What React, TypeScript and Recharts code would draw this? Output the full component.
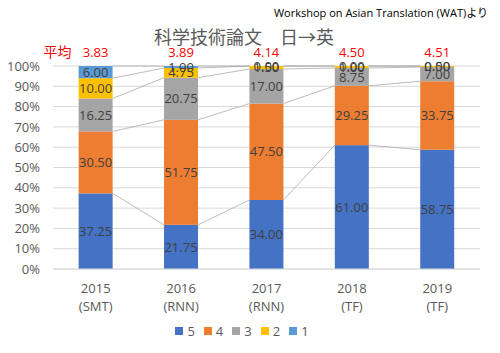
import { Bar, BarChart, CartesianGrid, LabelList, Legend, XAxis, YAxis } from "recharts";

const years = ["2015", "2016", "2017", "2018", "2019"];
const systems = ["(SMT)", "(RNN)", "(RNN)", "(TF)", "(TF)"];
const score5 = [37.25, 21.75, 34.0, 61.0, 58.75];
const score4 = [30.5, 51.75, 47.5, 29.25, 33.75];
const score3 = [16.25, 20.75, 17.0, 8.75, 7.0];
const score2 = [10.0, 4.75, 1.5, 1.0, 0.5];
const score1 = [6.0, 1.0, 0.0, 0.0, 0.0];
const averages = [3.83, 3.89, 4.14, 4.5, 4.51];
const yTicks = [0, 10, 20, 30, 40, 50, 60, 70, 80, 90, 100];

const FONT = "'Open Sans', 'Noto Sans CJK JP', sans-serif";

const series = [
  { key: "s5", name: "5", color: "#4472C4" },
  { key: "s4", name: "4", color: "#ED7D31" },
  { key: "s3", name: "3", color: "#A5A5A5" },
  { key: "s2", name: "2", color: "#FFC000" },
  { key: "s1", name: "1", color: "#5B9BD5" },
];

const data = years.map((year, i) => ({
  year,
  system: systems[i],
  s5: score5[i],
  s4: score4[i],
  s3: score3[i],
  s2: score2[i],
  s1: score1[i],
  avg: averages[i],
}));

// segment tops of the previous bar, per series, for the connector ("series") lines
const tops: Record<string, { x: number; y: number }[]> = {};

function segmentShape(key: string, color: string) {
  return (props: any) => {
    const { x, y, width, height, payload } = props;
    let i = years.indexOf(payload?.year);
    if (i < 0) i = props.index ?? 0;
    const list = tops[key] || (tops[key] = []);
    const prev = i > 0 ? list[i - 1] : undefined;
    list[i] = { x: x + width, y };
    return (
      <g>
        <rect x={x} y={y} width={width} height={Math.max(height || 0, 0)} fill={color} />
        {prev && (
          <line x1={prev.x} y1={prev.y} x2={x} y2={y} stroke="#A6A6A6" strokeWidth={0.75} />
        )}
      </g>
    );
  };
}

function XTick(props: any) {
  const { x, y, payload } = props;
  const i = years.indexOf(payload.value);
  return (
    <g transform={`translate(${x},${y})`}>
      <text textAnchor="middle" fill="#595959" fontSize={13} fontFamily={FONT}>
        <tspan x={0} dy="0.71em">{payload.value}</tspan>
        <tspan x={0} dy={18}>{systems[i]}</tspan>
      </text>
    </g>
  );
}

function AvgLabel(props: any) {
  const vb = props.viewBox || props;
  const cx = vb.x + vb.width / 2;
  const top = vb.y;
  return (
    <g>
      {props.index === 0 && (
        <text x={cx - 38} y={top - 9} textAnchor="middle" fill="#FF0000" fontSize={14} fontFamily={FONT}>
          平均
        </text>
      )}
      <text x={cx} y={top - 9} textAnchor="middle" fill="#FF0000" fontSize={13} fontFamily={FONT}>
        {Number(props.value).toFixed(2)}
      </text>
    </g>
  );
}

function LegendContent() {
  return (
    <div style={{ display: "flex", justifyContent: "center", gap: 9, fontFamily: FONT, fontSize: 13, color: "#595959", lineHeight: "20px", paddingLeft: 4 }}>
      {series.map((s) => (
        <div key={s.key} style={{ display: "flex", alignItems: "center" }}>
          <span style={{ width: 8, height: 8, background: s.color, display: "inline-block", marginRight: 4 }} />
          <span>{s.name}</span>
        </div>
      ))}
    </div>
  );
}

export default function App() {
  return (
    <div style={{ position: "absolute", left: 0, top: 0, width: 500, height: 353, background: "#fff", fontFamily: FONT }}>
      <div style={{ position: "absolute", right: 12, top: 5, fontSize: 11, color: "#000", lineHeight: "16px", whiteSpace: "nowrap" }}>
        Workshop on Asian Translation (WAT)より
      </div>
      <div style={{ position: "absolute", left: 0, width: 488, top: 27, textAlign: "center", fontSize: 18, lineHeight: "18px", color: "#595959", fontFamily: "'Noto Sans CJK JP', sans-serif" }}>
        科学技術論文　日→英
      </div>
      <BarChart
        width={500}
        height={353}
        data={data}
        margin={{ top: 66, right: 20, left: 0, bottom: 12 }}
        barCategoryGap="30%"
      >
        <CartesianGrid vertical={false} stroke="#D9D9D9" />
        <XAxis
          dataKey="year"
          tick={<XTick />}
          tickLine={false}
          tickSize={0}
          tickMargin={15}
          height={52}
          axisLine={{ stroke: "#D9D9D9" }}
          interval={0}
        />
        <YAxis
          domain={[0, 100]}
          ticks={yTicks}
          interval={0}
          tickFormatter={(v) => `${v}%`}
          tick={{ fill: "#595959", fontSize: 13, fontFamily: FONT }}
          tickLine={false}
          tickSize={0}
          tickMargin={13}
          axisLine={false}
          width={53}
        />
        <Legend verticalAlign="bottom" height={20} content={<LegendContent />} />
        {series.map((s) => (
          <Bar
            key={s.key}
            dataKey={s.key}
            name={s.name}
            stackId="a"
            fill={s.color}
            shape={segmentShape(s.key, s.color)}
            isAnimationActive={false}
          >
            <LabelList
              dataKey={s.key}
              position="center"
              formatter={(v: any) => Number(v).toFixed(2)}
              fill="#404040"
              fontSize={13}
              fontFamily={FONT}
            />
            {s.key === "s1" && <LabelList dataKey="avg" content={<AvgLabel />} />}
          </Bar>
        ))}
      </BarChart>
    </div>
  );
}
